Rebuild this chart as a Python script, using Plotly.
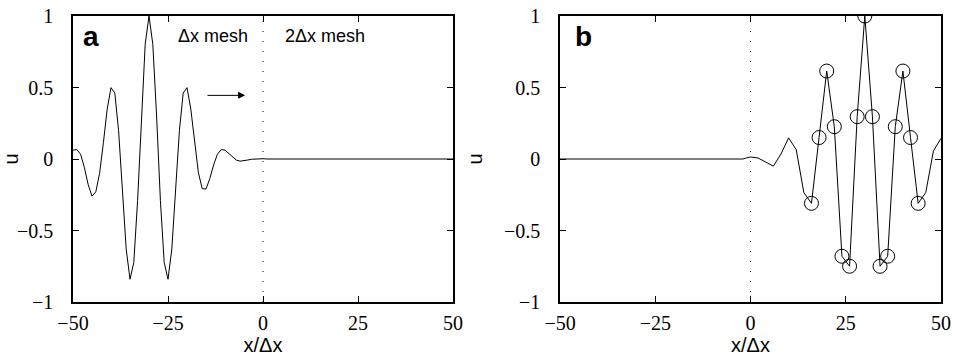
import plotly.graph_objects as go

# ---------------- data ----------------
# panel a: fine mesh (spacing Δx), x/Δx = -50 ... 50
xa = list(range(-50, 51))
ua = [0.062, 0.066, 0.033, -0.06, -0.18, -0.26, -0.23, -0.10, 0.114, 0.349,
      0.499, 0.461, 0.198, -0.220, -0.630, -0.841, -0.724, -0.290, 0.301, 0.803,
      1.000, 0.803, 0.301, -0.290, -0.724, -0.841, -0.630, -0.220, 0.198, 0.461,
      0.499, 0.349, 0.114, -0.096, -0.207, -0.210, -0.137, -0.042, 0.033, 0.066,
      0.062, 0.038, 0.011, -0.008, -0.015, -0.013, -0.007, -0.002, 0.001, 0.002,
      0.002] + [0.0] * 50

# panel b: fine mesh for x<=0, coarse (2Δx) mesh for x>0
xb_fine = list(range(-50, 1))
ub_fine = [0.0] * 49 + [0.008, 0.014]
xb_coarse = list(range(2, 51, 2))
ub_coarse = [0.007, -0.02, -0.05, 0.035, 0.148, 0.065, -0.235, -0.31, 0.15, 0.615,
             0.226, -0.68, -0.75, 0.296, 1.0, 0.296, -0.75, -0.68, 0.226, 0.615,
             0.15, -0.31, -0.235, 0.055, 0.145]
circle_range = (16, 44)

xticks = [-50, -25, 0, 25, 50]
yticks = [-1, -0.5, 0, 0.5, 1]
ytick_text = ["\u22121", "\u22120.5", "0", "0.5", "1"]
xtick_text = ["\u221250", "\u221225", "0", "25", "50"]

# ---------------- figure ----------------
fig = go.Figure()
line_style = dict(color="black", width=1)

fig.add_trace(go.Scatter(x=xa, y=ua, mode="lines", line=line_style,
                         xaxis="x", yaxis="y", showlegend=False))

xb = xb_fine + xb_coarse
ub = ub_fine + ub_coarse
fig.add_trace(go.Scatter(x=xb, y=ub, mode="lines", line=line_style,
                         xaxis="x2", yaxis="y2", showlegend=False))
cx = [x for x in xb_coarse if circle_range[0] <= x <= circle_range[1]]
cu = [u for x, u in zip(xb_coarse, ub_coarse) if circle_range[0] <= x <= circle_range[1]]
fig.add_trace(go.Scatter(x=cx, y=cu, mode="markers",
                         marker=dict(symbol="circle-open", size=14, color="black",
                                     line=dict(width=1, color="black")),
                         xaxis="x2", yaxis="y2", showlegend=False))

tickfont = dict(family="Liberation Serif, Times New Roman, serif", size=20, color="black")
titlefont = dict(family="Liberation Sans, Arial, sans-serif", size=20, color="black")

def xax(domain, anchor):
    return dict(domain=domain, anchor=anchor, range=[-50, 50], automargin=False,
                tickvals=xticks, ticktext=xtick_text, ticks="inside", ticklen=6,
                tickwidth=1, tickcolor="black", mirror="allticks", showline=True,
                linecolor="black", linewidth=1.5, showgrid=False, zeroline=False,
                tickfont=tickfont, ticklabelstandoff=2,
                title=dict(text="x/\u0394x", font=titlefont, standoff=5))

def yax(anchor):
    return dict(domain=[0, 1], anchor=anchor, range=[-1, 1], automargin=False,
                tickvals=yticks, ticktext=ytick_text, ticks="inside", ticklen=6,
                tickwidth=1, tickcolor="black", mirror="allticks", showline=True,
                linecolor="black", linewidth=1.5, showgrid=False, zeroline=False,
                tickfont=tickfont, ticklabelstandoff=14,
                title=dict(text="u", font=titlefont, standoff=16))

fig.update_layout(
    width=953, height=358,
    margin=dict(l=73, r=12, t=16, b=56, autoexpand=False),
    paper_bgcolor="white", plot_bgcolor="white",
    xaxis=xax([0, 0.4378], "y"),
    yaxis=yax("x"),
    xaxis2=xax([0.5611, 1], "y2"),
    yaxis2=yax("x2"),
)

# dotted vertical lines at x = 0
for xr, yr in (("x", "y"), ("x2", "y2")):
    fig.add_shape(type="line", xref=xr, yref=yr, x0=0, x1=0, y0=-1, y1=1,
                  line=dict(color="black", width=1, dash="1px,9px"))

lblfont = dict(family="Liberation Sans, Arial, sans-serif", size=28, color="black")
txtfont = dict(family="Liberation Sans, Arial, sans-serif", size=18, color="black")
fig.add_annotation(x=-45.3, y=0.86, xref="x", yref="y", text="<b>a</b>",
                   showarrow=False, font=lblfont)
fig.add_annotation(x=-43.8, y=0.86, xref="x2", yref="y2", text="<b>b</b>",
                   showarrow=False, font=lblfont)
fig.add_annotation(x=-13.2, y=0.86, xref="x", yref="y", text="\u0394x mesh",
                   showarrow=False, font=txtfont)
fig.add_annotation(x=16.2, y=0.86, xref="x", yref="y", text="2\u0394x mesh",
                   showarrow=False, font=txtfont)
# propagation arrow
fig.add_annotation(x=-4.7, y=0.445, ax=-15, ay=0.445, xref="x", yref="y",
                   axref="x", ayref="y", text="", showarrow=True,
                   arrowhead=2, arrowsize=1.4, arrowwidth=1, arrowcolor="black")

fig.write_html("out.html")
